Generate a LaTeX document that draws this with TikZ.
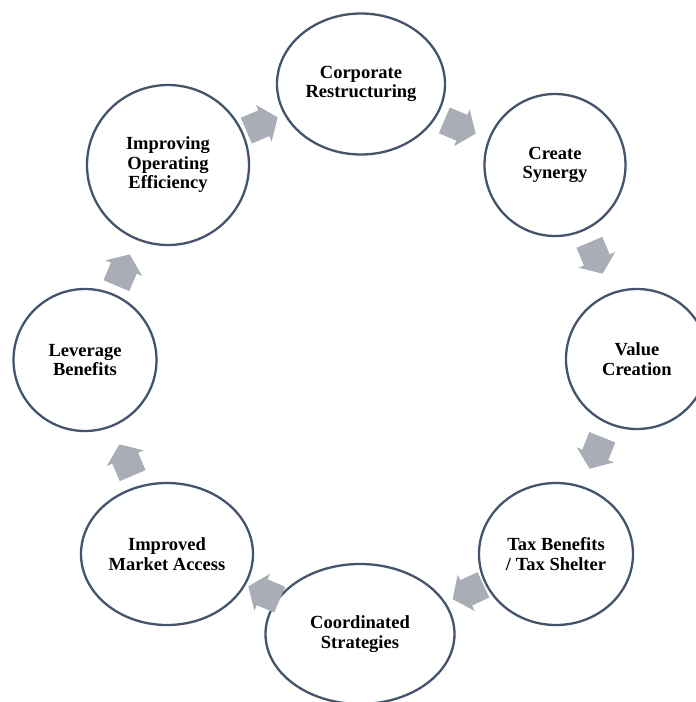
\documentclass[tikz,border=0pt]{standalone}
\usepackage{fontspec}
\setmainfont{Liberation Serif}
\usetikzlibrary{shapes.geometric}
\definecolor{ringline}{HTML}{44546A}
\definecolor{arrowfill}{HTML}{A9AEB6}
\begin{document}
\begin{tikzpicture}[x=1pt,y=-1pt,
  bubble/.style={ellipse, draw=ringline, line width=2.3pt, fill=white, align=center,
    font=\fontsize{18.5}{19.5}\selectfont\bfseries, inner sep=0pt},
  cyclearrow/.pic={\fill[arrowfill] (-17,-14) -- (2,-14) -- (2,-20) -- (17,0) -- (2,20) -- (2,14) -- (-17,14) -- cycle;}
  ]
\useasboundingbox (0,0) rectangle (696,702);
\fill[white] (0,0) rectangle (696,702);
\clip (0,0) rectangle (696,702);

\node[bubble, minimum width=168pt, minimum height=141pt] (corp) at (361,84) {Corporate\\Restructuring};
\node[bubble, minimum width=141pt, minimum height=142pt] (syn) at (555,165) {Create\\Synergy};
\node[bubble, minimum width=142pt, minimum height=140pt] (val) at (637,359) {Value\\Creation};
\node[bubble, minimum width=154pt, minimum height=142pt] (tax) at (556,554) {Tax Benefits\\/ Tax Shelter};
\node[bubble, minimum width=189pt, minimum height=140pt] (coord) at (360,634) {Coordinated\\Strategies};
\node[bubble, minimum width=172pt, minimum height=142pt] (mkt) at (167,554) {Improved\\Market Access};
\node[bubble, minimum width=143pt, minimum height=142pt] (lev) at (85,360) {Leverage\\Benefits};
\node[bubble, minimum width=162pt, minimum height=160pt] (eff) at (168,165) {Improving\\Operating\\Efficiency};

\pic[rotate=23] at (262,124) {cyclearrow};
\pic[rotate=-23] at (460,127) {cyclearrow};
\pic[rotate=-67] at (596,258) {cyclearrow};
\pic[rotate=-112] at (596,453) {cyclearrow};
\pic[rotate=-155] at (468,592) {cyclearrow};
\pic[rotate=157] at (264,593) {cyclearrow};
\pic[rotate=113] at (126,460) {cyclearrow};
\pic[rotate=67] at (123,270) {cyclearrow};
\end{tikzpicture}
\end{document}
